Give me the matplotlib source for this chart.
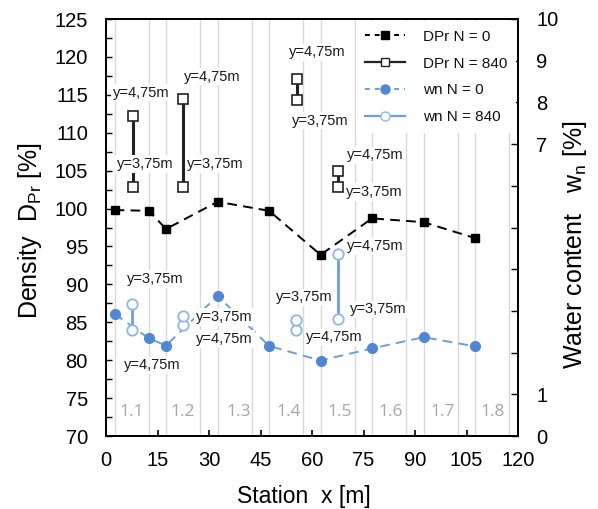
import matplotlib
matplotlib.use("Agg")
import matplotlib.pyplot as plt
import numpy as np
from matplotlib.lines import Line2D

plt.rcParams['font.family'] = ['Liberation Sans', 'DejaVu Sans']
plt.rcParams['mathtext.fontset'] = 'custom'
plt.rcParams['mathtext.rm'] = 'Liberation Sans'
plt.rcParams['mathtext.it'] = 'Liberation Sans:italic'

# ---------------- data ----------------
st0 = [2.5, 12.5, 17.5, 32.5, 47.5, 62.5, 77.5, 92.5, 107.5]
dpr0 = [99.8, 99.7, 97.3, 100.9, 99.7, 93.9, 98.7, 98.2, 96.1]
wn0 = [2.93, 2.34, 2.17, 3.36, 2.16, 1.81, 2.10, 2.37, 2.15]

st840_d = [8.0, 22.3, 55.5, 67.5]
dpr840_475 = [112.2, 114.4, 117.1, 105.0]
dpr840_375 = [102.8, 102.8, 114.3, 102.8]

st840_w = [7.7, 22.5, 55.3, 67.7]
wn840_375 = [3.17, 2.88, 2.78, 4.36]
wn840_475 = [2.53, 2.66, 2.54, 2.81]

sections = ['1.1', '1.2', '1.3', '1.4', '1.5', '1.6', '1.7', '1.8']
sec_x = [7.6, 22.4, 38.7, 53.3, 68.2, 83.0, 97.9, 112.7]

grid_x = [2.5, 12.5, 17.5, 27.5, 32.5, 42.5, 47.5, 57.5, 62.5, 72.5,
          77.5, 87.5, 92.5, 102.5, 107.5, 117.5]

xticks = [0, 15, 30, 45, 60, 75, 90, 105, 120]
wn_ticklabels = ['0', '1', '', '', '', '', '', '7', '8', '9', '10']

# ---------------- figure ----------------
fig = plt.figure(figsize=(5.98, 5.09), dpi=100)
ax = fig.add_axes([106/598, 73/509, 412/598, 417/509])
ax2 = ax.twinx()

BLACK = '#000000'
BLUE = '#4f87d5'
BLUE_L = '#6d9ee2'
BLUE_O = '#8fb5ea'

for gx in grid_x:
    ax.axvline(gx, color='#d9d9d9', lw=1.0, zorder=0)

ax.set_xlim(0, 120)
ax.set_ylim(70, 125)
ax2.set_ylim(0, 10)
ax.set_xticks(xticks)
ax.set_yticks(np.arange(70, 126, 5))
ax.set_yticks(np.arange(72.5, 125, 5), minor=True)
ax2.set_yticks(range(11))
ax2.set_yticklabels(wn_ticklabels)

ax.tick_params(axis='x', direction='in', length=4.5, width=1.2, labelsize=14.5, pad=10.5, top=False)
ax.tick_params(axis='y', which='both', direction='in', length=4, width=1.0, labelsize=14.5, pad=13, right=False)
ax2.tick_params(axis='y', direction='in', length=5, width=1.0, labelsize=14.5, pad=13)

for a in (ax, ax2):
    for s in a.spines.values():
        s.set_linewidth(1.3)
        s.set_color('black')

# DPr N = 0
ax.plot(st0, dpr0, ls=(0, (5, 3.2)), color=BLACK, lw=1.4, marker='s', ms=6,
        mfc=BLACK, mec=BLACK, zorder=3)
# DPr N = 840
for i in range(len(st840_d)):
    ax.plot([st840_d[i], st840_d[i]], [dpr840_375[i], dpr840_475[i]], ls='-',
            color='#222222', lw=2.2, marker='s', ms=6.5, mfc='white', mec='#222222',
            mew=1.2, zorder=3)

# wn N = 0
ax2.plot(st0, wn0, ls=(0, (5, 3.2)), color=BLUE_L, lw=1.4, marker='o', ms=7,
         mfc=BLUE, mec=BLUE, zorder=3)
# wn N = 840
for i in range(len(st840_w)):
    ax2.plot([st840_w[i], st840_w[i]], [wn840_475[i], wn840_375[i]], ls='-',
             color=BLUE_L, lw=2.0, marker='o', ms=7.5, mfc='white', mec=BLUE_O,
             mew=1.3, zorder=3)

# annotations
ann_d = [('y=4,75m', 10.3, 115.3), ('y=3,75m', 11.5, 105.9),
         ('y=4,75m', 31.0, 117.4), ('y=3,75m', 31.9, 105.9),
         ('y=4,75m', 61.5, 120.6), ('y=3,75m', 62.5, 111.6),
         ('y=4,75m', 78.4, 107.0), ('y=3,75m', 78.1, 102.2),
         ('y=3,75m', 14.4, 90.7), ('y=4,75m', 13.4, 79.3),
         ('y=3,75m', 34.5, 85.7), ('y=4,75m', 34.5, 82.8),
         ('y=3,75m', 57.7, 88.3), ('y=4,75m', 66.6, 83.0),
         ('y=4,75m', 78.4, 95.0), ('y=3,75m', 79.2, 86.7)]
for t, x, y in ann_d:
    ax2.text(x, y, t, transform=ax.transData, ha='center', va='center', fontsize=10.5,
             color='#1a1a1a', zorder=6,
             bbox=dict(boxstyle='square,pad=0.12', fc='white', ec='none'))

for t, x in zip(sections, sec_x):
    ax.text(x, 73.1, t, ha='center', va='center', fontsize=12.5, color='#a3a6aa',
            family=['Open Sans', 'DejaVu Sans'], zorder=2)

# labels
ax.set_xlabel('Station  x [m]', fontsize=16.5, va='center')
ax.xaxis.set_label_coords(0.48, -0.146)
ax.set_ylabel(r'Density  D$_{\mathrm{Pr}}$ [%]', fontsize=18, va='center')
ax.yaxis.set_label_coords(-0.184, 0.494)
ax2.set_ylabel(r'Water content   w$_{\mathrm{n}}$ [%]', fontsize=18, va='center')
ax2.yaxis.set_label_coords(1.138, 0.458)

h0 = Line2D([], [], ls=(0, (2.5, 2.5)), color=BLACK, lw=1.4, marker='s', ms=6, mfc=BLACK, mec=BLACK)
h1 = Line2D([], [], ls='-', color='#222222', lw=1.6, marker='s', ms=6, mfc='white', mec='#222222')
h2 = Line2D([], [], ls=(0, (2.5, 2.5)), color=BLUE_L, lw=1.4, marker='o', ms=6.5, mfc=BLUE, mec=BLUE)
h3 = Line2D([], [], ls='-', color=BLUE_L, lw=1.6, marker='o', ms=6.5, mfc='white', mec=BLUE_O)
leg = ax2.legend([h0, h1, h2, h3], ['DPr N = 0', 'DPr N = 840', 'wn N = 0', 'wn N = 840'],
                 loc='upper right', fontsize=11, frameon=True, framealpha=1, facecolor='white',
                 edgecolor='none', handlelength=2.6, handletextpad=1.2, labelspacing=0.84,
                 borderaxespad=0.15, borderpad=0.55, numpoints=1, fancybox=False)
leg.set_zorder(7)
for t in leg.get_texts():
    t.set_color('#111111')

fig.savefig('out.png', dpi=100)
